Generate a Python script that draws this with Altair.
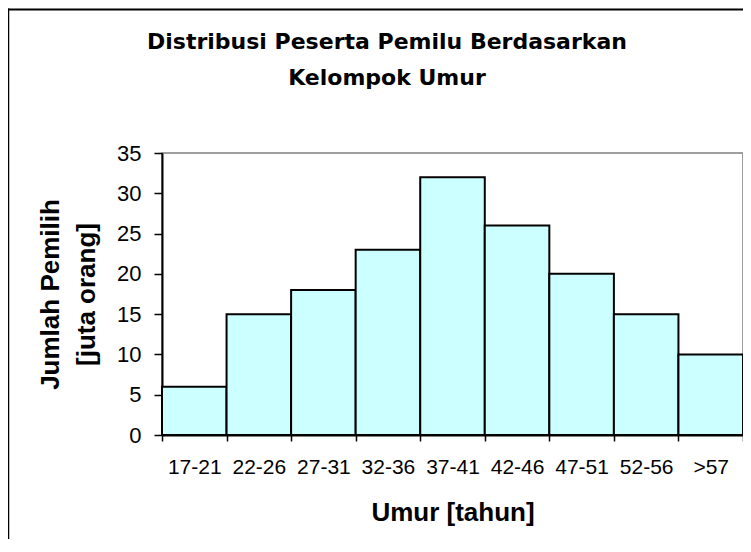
import altair as alt
import pandas as pd

kelompok = ["17-21", "22-26", "27-31", "32-36", "37-41", "42-46", "47-51", "52-56", ">57"]
jumlah = [6, 15, 18, 23, 32, 26, 20, 15, 10]
y_ticks = [0, 5, 10, 15, 20, 25, 30, 35]
judul = ["Distribusi Peserta Pemilu Berdasarkan", "Kelompok Umur"]

df = pd.DataFrame({"kelompok": kelompok, "jumlah": jumlah})
one = pd.DataFrame({"a": [0]})

bars = alt.Chart(df).mark_bar(fill="#CCFFFF", stroke="black", strokeWidth=2).encode(
    x=alt.X(
        "kelompok:N",
        sort=kelompok,
        scale=alt.Scale(paddingInner=0, paddingOuter=0),
        axis=alt.Axis(
            title="Umur [tahun]",
            labelAngle=0,
            tickBand="extent",
            tickSize=6,
            tickColor="black",
            tickWidth=1.5,
            domainColor="black",
            domainWidth=2,
            labelFont="Liberation Sans",
            labelFontSize=21,
            labelColor="black",
            labelPadding=15,
            titleFont="Liberation Sans",
            titleFontSize=26,
            titleFontWeight="bold",
            titleColor="black",
            titleY=85,
            titleBaseline="alphabetic",
        ),
    ),
    y=alt.Y(
        "jumlah:Q",
        scale=alt.Scale(domain=[0, 35], nice=False),
        axis=alt.Axis(
            values=y_ticks,
            title=["Jumlah Pemilih", "[juta orang]"],
            grid=False,
            tickSize=8,
            tickColor="black",
            tickWidth=1.5,
            domainColor="black",
            domainWidth=2,
            labelFont="Liberation Sans",
            labelFontSize=22,
            labelColor="black",
            labelPadding=13,
            titleFont="Liberation Sans",
            titleFontSize=26,
            titleFontWeight="bold",
            titleColor="black",
            titleLineHeight=36,
            titleX=-112,
            titleY=141,
            titleAngle=-90,
            titleAlign="center",
            titleBaseline="middle",
        ),
    ),
)

border_top = alt.Chart(one).mark_rule(color="black", strokeWidth=2).encode(
    x=alt.value(-154), x2=alt.value(640), y=alt.value(-143.5)
)
border_left = alt.Chart(one).mark_rule(color="black", strokeWidth=2.5).encode(
    x=alt.value(-154), y=alt.value(-144.5), y2=alt.value(450)
)

title1 = alt.Chart(one).mark_text(
    text=judul[0], font="DejaVu Sans", fontSize=22, fontWeight="bold",
    color="black", align="center", baseline="alphabetic"
).encode(x=alt.value(225), y=alt.value(-104))
title2 = alt.Chart(one).mark_text(
    text=judul[1], font="DejaVu Sans", fontSize=22, fontWeight="bold",
    color="black", align="center", baseline="alphabetic"
).encode(x=alt.value(225), y=alt.value(-68))

chart = alt.layer(border_top, border_left, title1, title2, bars).properties(
    width=581,
    height=282,
    autosize=alt.AutoSizeParams(type="none"),
    padding={"left": 154, "top": 145, "right": 0, "bottom": 104},
).configure_view(stroke="#808080", strokeWidth=1.5)

chart.save("out.html", embed_options={"renderer": "svg", "actions": False})
